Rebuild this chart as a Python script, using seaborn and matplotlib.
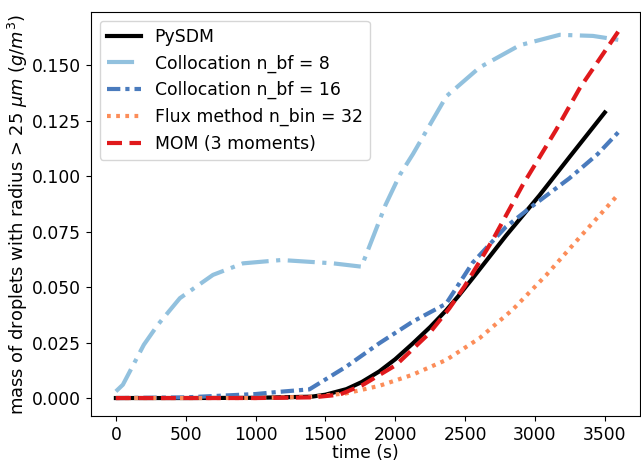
import numpy as np
import pandas as pd
import matplotlib
matplotlib.use("Agg")
import matplotlib.pyplot as plt
import seaborn as sns

# data
t_pysdm = [0, 500, 1000, 1400, 1500, 1650, 1760, 1886, 2000, 2124, 2250, 2364, 2450, 2554, 2793, 3032, 3246, 3500]
m_pysdm = [0.0, 0.0, 0.0001, 0.0006, 0.0015, 0.004, 0.0072, 0.012, 0.0175, 0.0245, 0.032, 0.0395, 0.0458, 0.054, 0.0732, 0.0913, 0.1085, 0.1287]

t_col8 = [0, 50, 100, 200, 300, 458, 695, 910, 1185, 1555, 1758, 1850, 1930, 2032, 2127, 2366, 2604, 2891, 3177, 3415, 3600]
m_col8 = [0.003, 0.006, 0.012, 0.024, 0.033, 0.045, 0.0555, 0.0607, 0.0622, 0.0607, 0.0592, 0.074, 0.087, 0.1005, 0.110, 0.136, 0.149, 0.159, 0.1637, 0.1632, 0.1614]

t_col16 = [0, 500, 1000, 1170, 1385, 1648, 1886, 2124, 2364, 2554, 2793, 2960, 3246, 3450, 3600]
m_col16 = [0.0, 0.0003, 0.0018, 0.0028, 0.0039, 0.0141, 0.0247, 0.0344, 0.0425, 0.061, 0.0772, 0.0855, 0.099, 0.110, 0.120]

t_flux = [0, 1000, 1400, 1648, 1886, 2124, 2366, 2604, 2843, 3082, 3320, 3600]
m_flux = [0.0, 0.0, 0.0006, 0.0021, 0.0055, 0.0105, 0.0172, 0.027, 0.040, 0.0555, 0.0724, 0.092]

t_mom = [0, 1000, 1409, 1600, 1767, 2006, 2244, 2387, 2495, 2697, 2912, 3151, 3320, 3600]
m_mom = [0.0, 0.0, 0.0003, 0.0015, 0.0059, 0.0149, 0.0292, 0.0404, 0.0502, 0.0712, 0.096, 0.1208, 0.1396, 0.1655]

labels = ["PySDM", "Collocation n_bf = 8", "Collocation n_bf = 16", "Flux method n_bin = 32", "MOM (3 moments)"]
colors = ["#000000", "#92c1de", "#4a7bbd", "#fc8d59", "#e0191c"]

series = [(t_pysdm, m_pysdm), (t_col8, m_col8), (t_col16, m_col16), (t_flux, m_flux), (t_mom, m_mom)]
styles = [
    dict(linestyle="-"),
    dict(dashes=(6.5, 1.8, 1, 1.8)),
    dict(dashes=(3.2, 1.2, 1, 1.2)),
    dict(dashes=(0.9, 1.3)),
    dict(dashes=(3.6, 1.8)),
]

plt.rcParams["font.family"] = ["DejaVu Sans"]
plt.rcParams["font.size"] = 12

fig = plt.figure(figsize=(6.41, 4.61), dpi=100)
ax = fig.add_axes([0.142, 0.0976, 0.856, 0.876])

for (t, m), lab, c, st in zip(series, labels, colors, styles):
    df = pd.DataFrame({"time": t, "mass": m})
    sns.lineplot(data=df, x="time", y="mass", ax=ax, color=c, label=lab, linewidth=3, **st)

ax.set_xlim(-178, 3750)
ax.set_ylim(-0.0081, 0.1739)
ax.set_xticks([0, 500, 1000, 1500, 2000, 2500, 3000, 3500])
ax.set_yticks([0.0, 0.025, 0.05, 0.075, 0.1, 0.125, 0.15])
ax.set_yticklabels(["0.000", "0.025", "0.050", "0.075", "0.100", "0.125", "0.150"])
ax.tick_params(labelsize=12.3)
ax.set_xlabel("time (s)", fontsize=12.3, labelpad=0.5)
ax.set_ylabel(r"mass of droplets with radius > 25 $\mu m$ ($g/m^3$)", fontsize=12.9, labelpad=1.5)
ax.legend(loc="upper left", fontsize=12.4, handlelength=2.0)

fig.savefig("out.png", dpi=100)
